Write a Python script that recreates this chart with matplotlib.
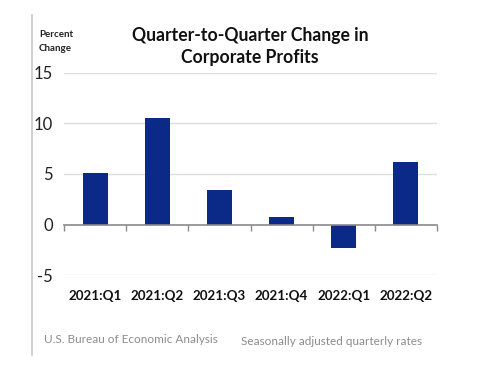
import matplotlib
matplotlib.use("Agg")
import matplotlib.pyplot as plt
from matplotlib.lines import Line2D
import numpy as np

quarters = ["2021:Q1", "2021:Q2", "2021:Q3", "2021:Q4", "2022:Q1", "2022:Q2"]
pct_change = [5.1, 10.5, 3.4, 0.7, -2.3, 6.2]
yticks = [-5, 0, 5, 10, 15]

plt.rcParams['font.family'] = ['Lato', 'DejaVu Sans']

fig = plt.figure(figsize=(5.0, 3.66), dpi=100)
ax = fig.add_axes([0.128, 0.2486, 0.746, 0.552])

x = np.arange(len(quarters))
ax.bar(x, pct_change, width=0.4, color='#0b2a88', zorder=3)

ax.set_xlim(-0.5, len(quarters) - 0.5)
ax.set_ylim(-5, 15)
ax.set_yticks(yticks)
ax.set_yticklabels([str(v) for v in yticks], fontsize=12, color='#222222')
ax.tick_params(axis='y', length=0, pad=8)

for v in yticks:
    if v != 0:
        ax.axhline(v, color='#dedede', lw=1, zorder=1)

for s in ['top', 'right', 'left']:
    ax.spines[s].set_visible(False)
ax.spines['bottom'].set_position(('data', 0))
ax.spines['bottom'].set_color('#8a8a8a')
ax.spines['bottom'].set_linewidth(1.2)
ax.spines['bottom'].set_zorder(4)

ax.set_xticks(x)
ax.set_xticklabels(quarters, fontsize=9.6, fontweight='bold', color='#111111')
ax.tick_params(axis='x', which='major', length=0, pad=47)
ax.set_xticks(np.arange(-0.5, len(quarters)), minor=True)
ax.tick_params(axis='x', which='minor', length=4, width=1, color='#8a8a8a', direction='out')

fig.text(0.5, 0.902, "Quarter-to-Quarter Change in", ha='center', va='center',
         fontsize=12.7, fontweight='bold', color='#111111')
fig.text(0.5, 0.842, "Corporate Profits", ha='center', va='center',
         fontsize=12.7, fontweight='bold', color='#111111')
fig.text(0.078, 0.905, "Percent", ha='left', va='center', fontsize=7, fontweight='bold', color='#222222')
fig.text(0.078, 0.868, "Change", ha='left', va='center', fontsize=7, fontweight='bold', color='#222222')

fig.text(0.088, 0.072, "U.S. Bureau of Economic Analysis", ha='left', va='center',
         fontsize=8.5, color='#8c8c8c')
fig.text(0.482, 0.068, "Seasonally adjusted quarterly rates", ha='left', va='center',
         fontsize=8.5, color='#8c8c8c')

fig.add_artist(Line2D([0.064, 0.064], [0.03, 0.96], transform=fig.transFigure,
                      color='#c8c8c8', lw=1.2))

fig.savefig("out.png", dpi=100)
